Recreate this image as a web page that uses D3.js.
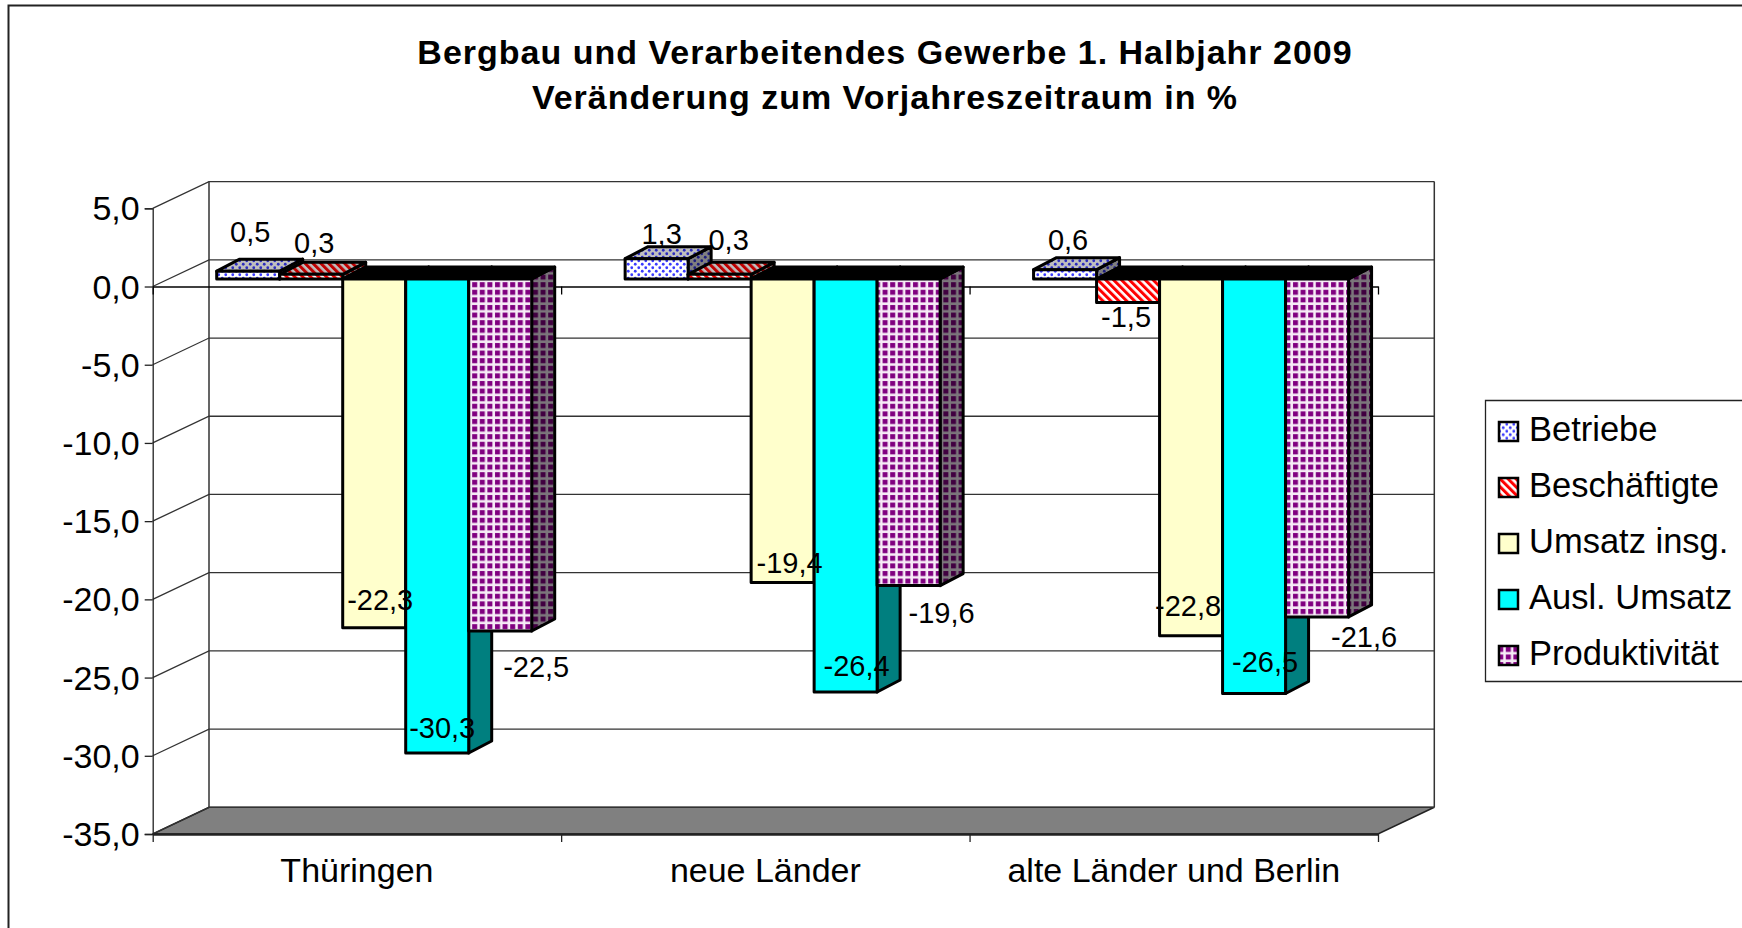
<!DOCTYPE html>
<html>
<head>
<meta charset="utf-8">
<script src="https://cdn.jsdelivr.net/npm/d3@7"></script>
<style>
html, body { margin: 0; padding: 0; background: #fff; overflow: hidden; }
svg { display: block; }
text { font-family: "Liberation Sans", Arial, sans-serif; fill: #000; }
</style>
</head>
<body>
<svg id="chart" width="1742" height="928"></svg>
<script>
//chart data
var categories = ["Thüringen", "neue Länder", "alte Länder und Berlin"];
var seriesNames = ["Betriebe", "Beschäftigte", "Umsatz insg.", "Ausl. Umsatz", "Produktivität"];
var betriebe = [0.5, 1.3, 0.6];
var beschaeftigte = [0.3, 0.3, -1.5];
var umsatz = [-22.3, -19.4, -22.8];
var auslUmsatz = [-30.3, -26.4, -26.5];
var produktivitaet = [-22.5, -19.6, -21.6];
var yTicks = [5, 0, -5, -10, -15, -20, -25, -30, -35];
var titleLines = ["Bergbau und Verarbeitendes Gewerbe 1. Halbjahr 2009", "Veränderung zum Vorjahreszeitraum in %"];

var seriesValues = [betriebe, beschaeftigte, umsatz, auslUmsatz, produktivitaet];

//layout
var plotLeft = 152.7, plotRight = 1378, plotTop = 208.3, plotBottom = 834;
var wallDx = 56.3, wallDy = -26.7;   //back wall offset
var barDx = 23, barDy = -12;         //depth of one bar
var barLift = -7.5;                  //bars stand a little behind the front plane
var barStart = 64, barWidth = 63;

//manual label positions, series by category
var labelShift = [
	[[2, -39], [5, -25], [3, -30]],
	[[3, -31], [9, -34], [-2, 14]],
	[[6, -28], [7, -20], [-3, -30]],
	[[5, -25], [11, -26], [11, -32]],
	[[36, 36], [33, 27], [47, 20]]
];

var svg = d3.select("#chart");
var fmt = function(v) { return d3.format(".1f")(v).replace(".", ",").replace("−", "-"); };

var y = d3.scaleLinear().domain([-35, 5]).range([plotBottom, plotTop]);
var x0 = d3.scaleBand().domain(categories).range([plotLeft, plotRight]);
var x1 = d3.scaleBand().domain(seriesNames).range([barStart, barStart + barWidth * seriesNames.length]);

//fill patterns
var defs = svg.append("defs");

var dots = defs.append("pattern").attr("id", "fill-0").attr("patternUnits", "userSpaceOnUse").attr("width", 7).attr("height", 7);
dots.append("rect").attr("width", 7).attr("height", 7).attr("fill", "#fff");
dots.append("circle").attr("cx", 1.75).attr("cy", 1.75).attr("r", 1.4).attr("fill", "#3a3aff");
dots.append("circle").attr("cx", 5.25).attr("cy", 5.25).attr("r", 1.4).attr("fill", "#3a3aff");

var hatch = defs.append("pattern").attr("id", "fill-1").attr("patternUnits", "userSpaceOnUse").attr("width", 5.6).attr("height", 5.6).attr("patternTransform", "rotate(-45)");
hatch.append("rect").attr("width", 5.6).attr("height", 5.6).attr("fill", "#fff");
hatch.append("rect").attr("width", 3).attr("height", 5.6).attr("fill", "#ff0000");

var grid = defs.append("pattern").attr("id", "fill-4").attr("patternUnits", "userSpaceOnUse").attr("width", 7.6).attr("height", 7.6);
grid.append("rect").attr("width", 7.6).attr("height", 7.6).attr("fill", "#f7ecf7");
grid.append("rect").attr("x", 1).attr("y", 1).attr("width", 5).attr("height", 5).attr("fill", "#800080");

var fills = ["url(#fill-0)", "url(#fill-1)", "#ffffcc", "#00ffff", "url(#fill-4)"];

//outer frame
svg.append("path").attr("d", "M8.5,928V5.5H1742").attr("fill", "none").attr("stroke", "#222").attr("stroke-width", 2);

//title
svg.append("g").selectAll("text").data(titleLines).enter().append("text")
	.attr("x", 885)
	.attr("y", function(d, i) { return 64 + i * 45; })
	.attr("text-anchor", "middle")
	.attr("font-size", 34)
	.attr("font-weight", "bold")
	.style("letter-spacing", "1px")
	.text(function(d) { return d; });

//floor, walls and gridlines
var line = function(pts) { return "M" + pts.map(function(p) { return p[0] + "," + p[1]; }).join("L"); };
var y35 = y(-35);

svg.append("path")
	.attr("d", line([[plotLeft, y35], [plotLeft + wallDx, y35 + wallDy], [plotRight + wallDx, y35 + wallDy], [plotRight, y35]]) + "Z")
	.attr("fill", "#808080").attr("stroke", "#222").attr("stroke-width", 1.5);

svg.append("g").selectAll("path").data(yTicks).enter().append("path")
	.attr("d", function(d) {
		var yy = y(d);
		return line([[plotLeft, yy], [plotLeft + wallDx, yy + wallDy], [plotRight + wallDx, yy + wallDy]]);
	})
	.attr("fill", "none").attr("stroke", "#333").attr("stroke-width", 1.3);

svg.append("path")
	.attr("d", line([[plotLeft + wallDx, y(5) + wallDy], [plotLeft + wallDx, y35 + wallDy]]) + line([[plotRight + wallDx, y(5) + wallDy], [plotRight + wallDx, y35 + wallDy]]))
	.attr("fill", "none").attr("stroke", "#333").attr("stroke-width", 1.5);

//y axis
var yAxis = d3.axisLeft(y).tickValues(yTicks).tickFormat(fmt).tickSize(8).tickPadding(5);
var yG = svg.append("g").attr("transform", "translate(" + plotLeft + ",0)").call(yAxis);
yG.selectAll("text").attr("font-size", 34).attr("font-family", "Liberation Sans").attr("dy", ".34em");
yG.selectAll("line, path").attr("stroke", "#222").attr("stroke-width", 1.3);

//x axis, twice: on the zero line and on the floor
var xBoundaries = d3.scaleLinear().domain([0, categories.length]).range([plotLeft, plotRight]);
[0, -35].forEach(function(v) {
	var g = svg.append("g").attr("transform", "translate(0," + y(v) + ")");
	g.call(d3.axisBottom(xBoundaries).tickValues([0, 1, 2, 3]).tickFormat("").tickSize(8).tickSizeOuter(0));
	g.selectAll("line, path").attr("stroke", v == 0 ? "#000" : "#222").attr("stroke-width", v == 0 ? 1.3 : 2.5);
	g.selectAll("line").attr("stroke-width", 1.3);
});

var xLabels = svg.append("g").attr("transform", "translate(0," + (plotBottom + 36) + ")")
	.call(d3.axisBottom(x0).tickSize(0).tickPadding(0));
xLabels.select(".domain").remove();
xLabels.selectAll("text").attr("font-size", 34).attr("font-family", "Liberation Sans").attr("y", 0).attr("dy", ".34em");

//bars, left to right so each one covers the side of the one before
var barsG = svg.append("g");

function drawFace(pts, fill, dark)
{
	barsG.append("path").attr("d", line(pts) + "Z").attr("fill", fill).attr("stroke", "none");
	if(dark > 0) barsG.append("path").attr("d", line(pts) + "Z").attr("fill", "#000").attr("fill-opacity", dark);
	barsG.append("path").attr("d", line(pts) + "Z").attr("fill", "none").attr("stroke", "#000").attr("stroke-width", 3).attr("stroke-linejoin", "round");
}

categories.forEach(function(cat, c)
	{
		seriesNames.forEach(function(name, s)
			{
				var v = seriesValues[s][c];
				var l = x0(cat) + x1(name), r = l + x1.bandwidth();
				var yZero = y(0) + barLift, yEnd = y(v) + barLift;
				var top = Math.min(yZero, yEnd), bottom = Math.max(yZero, yEnd);

				//side
				drawFace([[r, top], [r + barDx, top + barDy], [r + barDx, bottom + barDy], [r, bottom]], fills[s], 0.5);
				//top, negative bars only show the black lid
				drawFace([[l, top], [l + barDx, top + barDy], [r + barDx, top + barDy], [r, top]], v < 0 ? "#000" : fills[s], v < 0 ? 0 : 0.25);
				//front
				drawFace([[l, top], [r, top], [r, bottom], [l, bottom]], fills[s], 0);
			});
	});

//data labels
var labelsG = svg.append("g");
categories.forEach(function(cat, c)
	{
		seriesNames.forEach(function(name, s)
			{
				var v = seriesValues[s][c];
				labelsG.append("text")
					.attr("x", x0(cat) + x1(name) + x1.bandwidth() / 2 + labelShift[s][c][0])
					.attr("y", y(v) + barLift + labelShift[s][c][1])
					.attr("dy", ".35em")
					.attr("text-anchor", "middle")
					.attr("font-size", 29)
					.text(fmt(v));
			});
	});

//legend
svg.append("path").attr("d", "M1742,400.5H1485.5V681.5H1742").attr("fill", "#fff").attr("stroke", "#222").attr("stroke-width", 1.3);
var legendY = d3.scalePoint().domain(seriesNames).range([429.5, 653.5]);
var legendG = svg.append("g").selectAll("g").data(seriesNames).enter().append("g")
	.attr("transform", function(d) { return "translate(0," + legendY(d) + ")"; });
legendG.append("rect").attr("x", 1499).attr("y", -7.5).attr("width", 19).attr("height", 19)
	.attr("fill", function(d, i) { return fills[i]; })
	.attr("stroke", "#000").attr("stroke-width", 2.5);
legendG.append("text").attr("x", 1529).attr("dy", ".34em").attr("font-size", 34.5).text(function(d) { return d; });
</script>
</body>
</html>
